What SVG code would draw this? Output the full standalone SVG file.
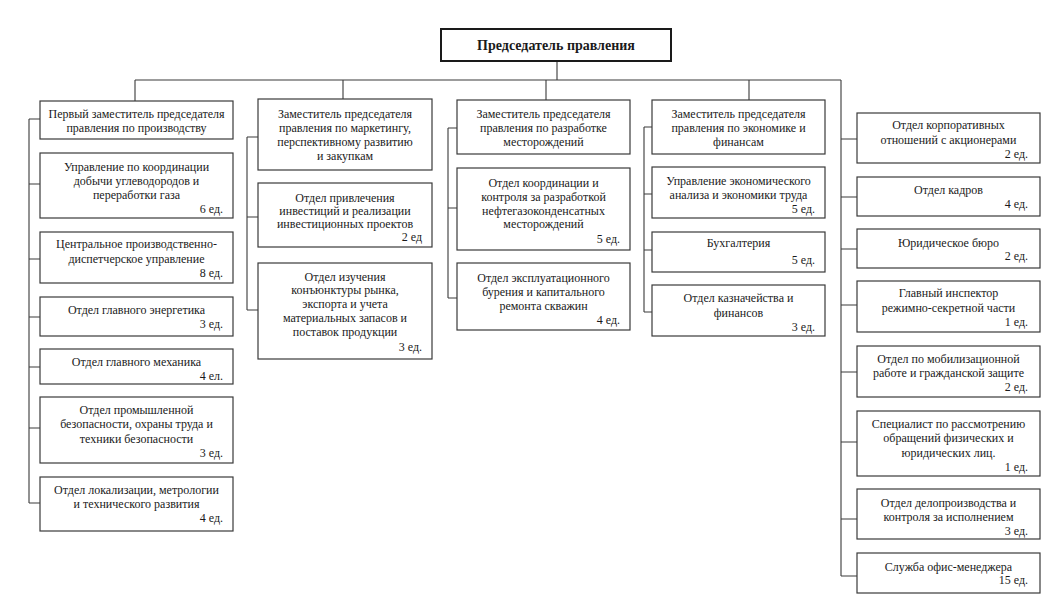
<svg xmlns="http://www.w3.org/2000/svg" width="1064" height="616" viewBox="0 0 1064 616">
<style>
.bg{fill:#ffffff}
.box{fill:#ffffff;stroke:#3a3a3a;stroke-width:1.2}
.top{fill:#ffffff;stroke:#1a1a1a;stroke-width:2}
.ln{fill:none;stroke:#3a3a3a;stroke-width:1.1}
text{font-family:"Liberation Serif","Times New Roman",serif;font-size:12px;fill:#1a1a1a}
.c{text-anchor:middle}
.r{text-anchor:end}
.t{font-size:14px;font-weight:bold}
</style>
<rect class="bg" x="0" y="0" width="1064" height="616"/>
<g id="connectors">
<path class="ln" d="M557,61V80M135,80H841M135,80V101M343,80V99M546,80V100M749,80V100"/>
<path class="ln" d="M841,80V576M841,139H857M841,197H857M841,249H857M841,305H857M841,372H857M841,442H857M841,519H857M841,576H857"/>
<path class="ln" d="M29,119V503M29,119H40M29,184H40M29,259H40M29,317H40M29,367H40M29,428H40M29,503H40"/>
<path class="ln" d="M247,137V310M247,137H258M247,217H258M247,310H258"/>
<path class="ln" d="M448,128V298M448,128H457M448,208H457M448,298H457"/>
<path class="ln" d="M644,127V312M644,127H652M644,194H652M644,250H652M644,312H652"/>
</g>
<g id="chairman">
<rect class="top" x="441" y="29" width="230" height="32"/>
<text class="c t" x="556" y="50">Председатель правления</text>
</g>
<g id="c1n1"><rect class="box" x="40" y="101" width="193" height="38"/>
<text class="c" x="136.5" y="118">Первый заместитель председателя</text>
<text class="c" x="136.5" y="132">правления по производству</text></g>
<g id="c1n2"><rect class="box" x="40" y="153" width="193" height="65"/>
<text class="c" x="136.5" y="171">Управление по координации</text>
<text class="c" x="136.5" y="185">добычи углеводородов и</text>
<text class="c" x="136.5" y="199">переработки газа</text>
<text class="r" x="223" y="213">6 ед.</text></g>
<g id="c1n3"><rect class="box" x="40" y="232" width="193" height="51"/>
<text class="c" x="136.5" y="248">Центральное производственно-</text>
<text class="c" x="136.5" y="263">диспетчерское управление</text>
<text class="r" x="223" y="277">8 ед.</text></g>
<g id="c1n4"><rect class="box" x="40" y="297" width="193" height="39"/>
<text class="c" x="136.5" y="314">Отдел главного энергетика</text>
<text class="r" x="223" y="328">3 ед.</text></g>
<g id="c1n5"><rect class="box" x="40" y="349" width="193" height="35"/>
<text class="c" x="136.5" y="366">Отдел главного механика</text>
<text class="r" x="223" y="380">4 ел.</text></g>
<g id="c1n6"><rect class="box" x="40" y="397" width="193" height="66"/>
<text class="c" x="136.5" y="414">Отдел промышленной</text>
<text class="c" x="136.5" y="428">безопасности, охраны труда и</text>
<text class="c" x="136.5" y="443">техники безопасности</text>
<text class="r" x="223" y="457">3 ед.</text></g>
<g id="c1n7"><rect class="box" x="40" y="477" width="193" height="54"/>
<text class="c" x="136.5" y="494">Отдел локализации, метрологии</text>
<text class="c" x="136.5" y="508">и технического развития</text>
<text class="r" x="223" y="522">4 ед.</text></g>
<g id="c2n1"><rect class="box" x="258" y="99" width="174" height="71"/>
<text class="c" x="345" y="118">Заместитель председателя</text>
<text class="c" x="345" y="132">правления по маркетингу,</text>
<text class="c" x="345" y="146">перспективному развитию</text>
<text class="c" x="345" y="160">и закупкам</text></g>
<g id="c2n2"><rect class="box" x="258" y="183" width="174" height="64"/>
<text class="c" x="345" y="202">Отдел привлечения</text>
<text class="c" x="345" y="215">инвестиций и реализации</text>
<text class="c" x="345" y="228">инвестиционных проектов</text>
<text class="r" x="422" y="241">2 ед</text></g>
<g id="c2n3"><rect class="box" x="258" y="263" width="174" height="96"/>
<text class="c" x="345" y="281">Отдел изучения</text>
<text class="c" x="345" y="294">конъюнктуры рынка,</text>
<text class="c" x="345" y="308">экспорта и учета</text>
<text class="c" x="345" y="322">материальных запасов и</text>
<text class="c" x="345" y="336">поставок продукции</text>
<text class="r" x="422" y="351">3 ед.</text></g>
<g id="c3n1"><rect class="box" x="457" y="100" width="173" height="54"/>
<text class="c" x="543.5" y="118">Заместитель председателя</text>
<text class="c" x="543.5" y="132">правления по разработке</text>
<text class="c" x="543.5" y="146">месторождений</text></g>
<g id="c3n2"><rect class="box" x="457" y="168" width="173" height="82"/>
<text class="c" x="543.5" y="187">Отдел координации и</text>
<text class="c" x="543.5" y="201">контроля за разработкой</text>
<text class="c" x="543.5" y="215">нефтегазоконденсатных</text>
<text class="c" x="543.5" y="228">месторождений</text>
<text class="r" x="620" y="243">5 ед.</text></g>
<g id="c3n3"><rect class="box" x="457" y="263" width="173" height="67"/>
<text class="c" x="543.5" y="282">Отдел эксплуатационного</text>
<text class="c" x="543.5" y="296">бурения и капитального</text>
<text class="c" x="543.5" y="310">ремонта скважин</text>
<text class="r" x="620" y="324">4 ед.</text></g>
<g id="c4n1"><rect class="box" x="652" y="100" width="173" height="54"/>
<text class="c" x="738.5" y="118">Заместитель председателя</text>
<text class="c" x="738.5" y="132">правления по экономике и</text>
<text class="c" x="738.5" y="146">финансам</text></g>
<g id="c4n2"><rect class="box" x="652" y="167" width="173" height="51"/>
<text class="c" x="738.5" y="185">Управление экономического</text>
<text class="c" x="738.5" y="199">анализа и экономики труда</text>
<text class="r" x="815" y="213">5 ед.</text></g>
<g id="c4n3"><rect class="box" x="652" y="232" width="173" height="40"/>
<text class="c" x="738.5" y="247">Бухгалтерия</text>
<text class="r" x="815" y="264">5 ед.</text></g>
<g id="c4n4"><rect class="box" x="652" y="285" width="173" height="51"/>
<text class="c" x="738.5" y="302">Отдел казначейства и</text>
<text class="c" x="738.5" y="317">финансов</text>
<text class="r" x="815" y="331">3 ед.</text></g>
<g id="c5n1"><rect class="box" x="857" y="113" width="183" height="50"/>
<text class="c" x="948.5" y="129">Отдел корпоративных</text>
<text class="c" x="948.5" y="144">отношений с акционерами</text>
<text class="r" x="1028" y="158">2 ед.</text></g>
<g id="c5n2"><rect class="box" x="857" y="177" width="183" height="39"/>
<text class="c" x="948.5" y="194">Отдел кадров</text>
<text class="r" x="1028" y="208">4 ед.</text></g>
<g id="c5n3"><rect class="box" x="857" y="229" width="183" height="39"/>
<text class="c" x="948.5" y="247">Юридическое бюро</text>
<text class="r" x="1028" y="260">2 ед.</text></g>
<g id="c5n4"><rect class="box" x="857" y="281" width="183" height="51"/>
<text class="c" x="948.5" y="297">Главный инспектор</text>
<text class="c" x="948.5" y="312">режимно-секретной части</text>
<text class="r" x="1028" y="326">1 ед.</text></g>
<g id="c5n5"><rect class="box" x="857" y="346" width="183" height="51"/>
<text class="c" x="948.5" y="363">Отдел по мобилизационной</text>
<text class="c" x="948.5" y="377">работе и гражданской защите</text>
<text class="r" x="1028" y="391">2 ед.</text></g>
<g id="c5n6"><rect class="box" x="857" y="411" width="183" height="65"/>
<text class="c" x="948.5" y="428">Специалист по рассмотрению</text>
<text class="c" x="948.5" y="442">обращений физических и</text>
<text class="c" x="948.5" y="457">юридических лиц.</text>
<text class="r" x="1028" y="471">1 ед.</text></g>
<g id="c5n7"><rect class="box" x="857" y="489" width="183" height="50"/>
<text class="c" x="948.5" y="507">Отдел делопроизводства и</text>
<text class="c" x="948.5" y="521">контроля за исполнением</text>
<text class="r" x="1028" y="535">3 ед.</text></g>
<g id="c5n8"><rect class="box" x="857" y="553" width="183" height="40"/>
<text class="c" x="948.5" y="571">Служба офис-менеджера</text>
<text class="r" x="1028" y="584">15 ед.</text></g>
</svg>
